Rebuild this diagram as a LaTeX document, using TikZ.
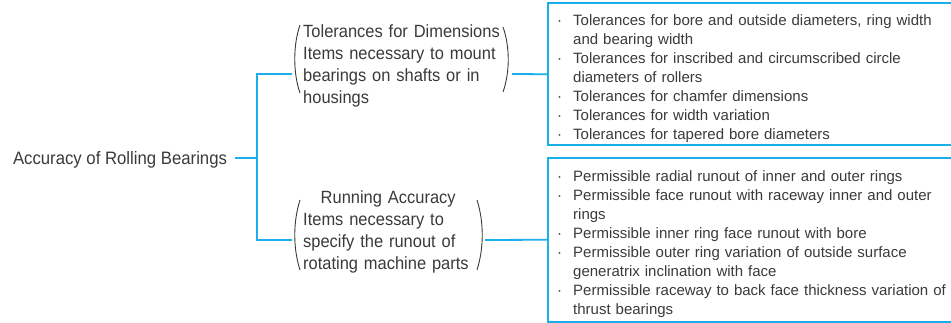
\documentclass[tikz,border=0pt]{standalone}
\usepackage{fontspec}
\setmainfont{Liberation Sans}[FakeStretch=0.93]
\newfontfamily\listfont{Liberation Sans}
\usepackage{tikz}
\usetikzlibrary{positioning,calc}
\definecolor{acc}{HTML}{1AAEEB}
\definecolor{ink}{HTML}{3A3A3A}
\newcommand\bitem[1]{\par\hangindent=16pt\hangafter=1\noindent\makebox[16pt][l]{·}#1}

\begin{document}
\begin{tikzpicture}[x=1pt, y=-1pt, font=\fontsize{17.7}{22}\selectfont, text=ink,
  conn/.style={draw=acc, line width=1.8pt},
  brk/.style={draw=ink, line width=0.9pt},
  head/.style={inner sep=0pt, align=left},
  lst/.style={inner xsep=0pt, inner ysep=0pt, text width=394pt, anchor=west, font=\listfont\fontsize{15}{19}\selectfont},
  frame/.style={draw=acc, line width=1.8pt}]
\useasboundingbox (0,0) rectangle (951,323);
% left side
\node[head, text depth=0pt, anchor=west, outer xsep=8pt, font=\fontsize{18}{22}\selectfont] (root) at (5,158) {Accuracy of Rolling Bearings};
\coordinate (jn) at (257,158);
% middle groups
\node[head, anchor=north west, text width=200pt] (dim) at (303,24) {Tolerances for Dimensions\\ Items necessary to mount\\ bearings on shafts or in\\ housings};
\node[head, anchor=north west, text width=170pt] (run) at (303,190) {\hfill Running Accuracy\hfill\null\\ Items necessary to\\ specify the runout of\\ rotating machine parts};
\coordinate (dimin) at (292,74);
\coordinate (dimout) at (512,74);
\coordinate (runin) at (292,240);
\coordinate (runout) at (485,240);
% brackets
\draw[brk] (300,25) .. controls (293,45) and (293,73) .. (300,93);
\draw[brk] (503,27) .. controls (510,47) and (510,72) .. (503,92);
\draw[brk] (300,200) .. controls (293,222) and (293,248) .. (300,270);
\draw[brk] (477,200) .. controls (484,222) and (484,248) .. (477,270);
% lists
\node[lst, minimum height=141.5pt] (dimlist) at (557,74.25) {\raggedright
  \bitem{Tolerances for bore and outside diameters, ring width\newline and bearing width}
  \bitem{Tolerances for inscribed and circumscribed circle\newline diameters of rollers}
  \bitem{Tolerances for chamfer dimensions}
  \bitem{Tolerances for width variation}
  \bitem{Tolerances for tapered bore diameters}\par};
\node[lst, minimum height=163.5pt] (runlist) at (557,239.75) {\raggedright
  \bitem{Permissible radial runout of inner and outer rings}
  \bitem{Permissible face runout with raceway inner and outer\newline rings}
  \bitem{Permissible inner ring face runout with bore}
  \bitem{Permissible outer ring variation of outside surface\newline generatrix inclination with face}
  \bitem{Permissible raceway to back face thickness variation of\newline thrust bearings}\par};
\draw[frame] (dimlist.north east) -- ([xshift=-9pt]dimlist.north west) |- (dimlist.south east);
\draw[frame] (runlist.north east) -- ([xshift=-9pt]runlist.north west) |- (runlist.south east);
% connectors
\draw[conn] (root.east) -- (jn);
\draw[conn] (dimin) -| (jn) |- (runin);
\draw[conn] (dimout) -- ([xshift=-9pt]dimlist.west);
\draw[conn] (runout) -- ([xshift=-9pt]runlist.west);
\end{tikzpicture}
\end{document}
